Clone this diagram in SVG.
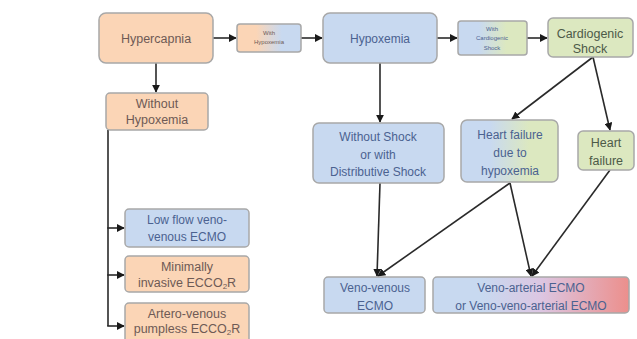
<svg xmlns="http://www.w3.org/2000/svg" width="637" height="339" viewBox="0 0 637 339">
<defs>
<style>
.box{stroke:#a8a8a8;stroke-width:1.5}
.or{fill:#fbd5b6}
.bl{fill:#c8d9f0}
.gr{fill:#dce8c0}
text{font-family:"Liberation Sans",Arial,sans-serif;text-anchor:middle}
.to{fill:#6e5a55;font-size:12.5px}
.tb{fill:#4b6290;font-size:12px}
.tg{fill:#4d5a48;font-size:12.5px}
.s{font-size:6px}
.c line,.c polyline{stroke:#2a2a2a;stroke-width:1.6;fill:none;marker-end:url(#ah)}
.c .trunk{marker-end:none}
</style>
<marker id="ah" viewBox="0 0 10 10" refX="9" refY="5" markerWidth="5" markerHeight="5" orient="auto" markerUnits="strokeWidth">
<path d="M0,0 L10,5 L0,10 z" fill="#1a1a1a"/>
</marker>
<linearGradient id="gob" x1="0" x2="1" y1="0" y2="0"><stop offset="0.3" stop-color="#fbd5b6"/><stop offset="0.7" stop-color="#c8d9f0"/></linearGradient>
<linearGradient id="gbg" x1="0" x2="1" y1="0" y2="0"><stop offset="0.3" stop-color="#c8d9f0"/><stop offset="0.7" stop-color="#dce8c0"/></linearGradient>
<linearGradient id="gbr" x1="0" x2="1" y1="0" y2="0"><stop offset="0.25" stop-color="#c8d9f0"/><stop offset="0.55" stop-color="#dcc6e2"/><stop offset="1" stop-color="#ec8f8c"/></linearGradient>
</defs>
<rect width="637" height="339" fill="#ffffff"/>

<g class="c">
<line x1="213" y1="38" x2="236" y2="38"/>
<line x1="301" y1="38" x2="322" y2="38"/>
<line x1="437" y1="38" x2="457" y2="38"/>
<line x1="527" y1="38" x2="547" y2="38"/>
<line x1="156" y1="63" x2="156" y2="92"/>
<line x1="380" y1="63" x2="380" y2="122"/>
<line x1="593" y1="57" x2="512" y2="119"/>
<line x1="593" y1="57" x2="610" y2="130"/>
<line x1="380" y1="183" x2="377" y2="276"/>
<line x1="510" y1="183" x2="378" y2="276"/>
<line x1="510" y1="183" x2="531" y2="276"/>
<line x1="610" y1="170" x2="532" y2="276"/>
<line class="trunk" x1="108" y1="130" x2="108" y2="326"/>
<line x1="107.2" y1="228" x2="124" y2="228"/>
<line x1="107.2" y1="275" x2="124" y2="275"/>
<line x1="107.2" y1="326" x2="124" y2="326"/>
</g>

<g id="hypercapnia"><rect class="box or" x="99" y="13" width="114" height="50" rx="7"/><text class="to" x="156" y="42.5">Hypercapnia</text></g>
<g id="with-hypoxemia"><rect class="box" fill="url(#gob)" x="237" y="24" width="64" height="28" rx="3"/><text class="to s" x="269" y="35">With</text><text class="to s" x="269" y="44">Hypoxemia</text></g>
<g id="hypoxemia"><rect class="box bl" x="323" y="13" width="114" height="50" rx="7"/><text class="tb" x="380" y="42.5">Hypoxemia</text></g>
<g id="with-cardiogenic"><rect class="box" fill="url(#gbg)" x="458" y="21" width="69" height="34" rx="3"/><text class="tb s" x="492" y="30.5">With</text><text class="tb s" x="492" y="40">Cardiogenic</text><text class="tb s" x="492" y="49.5">Shock</text></g>
<g id="cardiogenic-shock"><rect class="box gr" x="548" y="18" width="85" height="39" rx="5"/><text class="tg" x="590" y="37.5">Cardiogenic</text><text class="tg" x="590" y="52.5">Shock</text></g>
<g id="without-hypoxemia"><rect class="box or" x="106" y="93" width="102" height="37" rx="4"/><text class="to" x="157" y="108">Without</text><text class="to" x="157" y="123.5">Hypoxemia</text></g>
<g id="without-shock"><rect class="box bl" x="313" y="123" width="131" height="60" rx="6"/><text class="tb" x="378" y="141">Without Shock</text><text class="tb" x="378" y="158.5">or with</text><text class="tb" x="378" y="176">Distributive Shock</text></g>
<g id="hf-due-hypoxemia"><rect class="box" fill="url(#gbg)" x="461" y="120" width="97" height="62" rx="6"/><text class="tb" x="510" y="139">Heart failure</text><text class="tb" x="510" y="157">due to</text><text class="tb" x="510" y="175">hypoxemia</text></g>
<g id="heart-failure"><rect class="box gr" x="578" y="131" width="56" height="39" rx="5"/><text class="tg" x="606" y="147">Heart</text><text class="tg" x="606" y="165">failure</text></g>
<g id="low-flow"><rect class="box bl" x="125" y="209" width="124" height="38" rx="4"/><text class="tb" x="187" y="224">Low flow veno-</text><text class="tb" x="187" y="241">venous ECMO</text></g>
<g id="minimally-invasive"><rect class="box or" x="125" y="256" width="124" height="36" rx="4"/><text class="to" x="187" y="271">Minimally</text><text class="to" x="187" y="287">invasive ECCO<tspan font-size="8" dy="2">2</tspan><tspan dy="-2">R</tspan></text></g>
<g id="artero-venous"><rect class="box or" x="125" y="303" width="124" height="40" rx="4"/><text class="to" x="187" y="318">Artero-venous</text><text class="to" x="187" y="333">pumpless ECCO<tspan font-size="8" dy="2">2</tspan><tspan dy="-2">R</tspan></text></g>
<g id="veno-venous"><rect class="box bl" x="324" y="277" width="101" height="36" rx="4"/><text class="tb" x="375" y="292">Veno-venous</text><text class="tb" x="375" y="310">ECMO</text></g>
<g id="veno-arterial"><rect class="box" fill="url(#gbr)" x="433" y="277" width="196" height="36" rx="4"/><text class="tb" x="531" y="292">Veno-arterial ECMO</text><text class="tb" x="531" y="310">or Veno-veno-arterial ECMO</text></g>
</svg>
